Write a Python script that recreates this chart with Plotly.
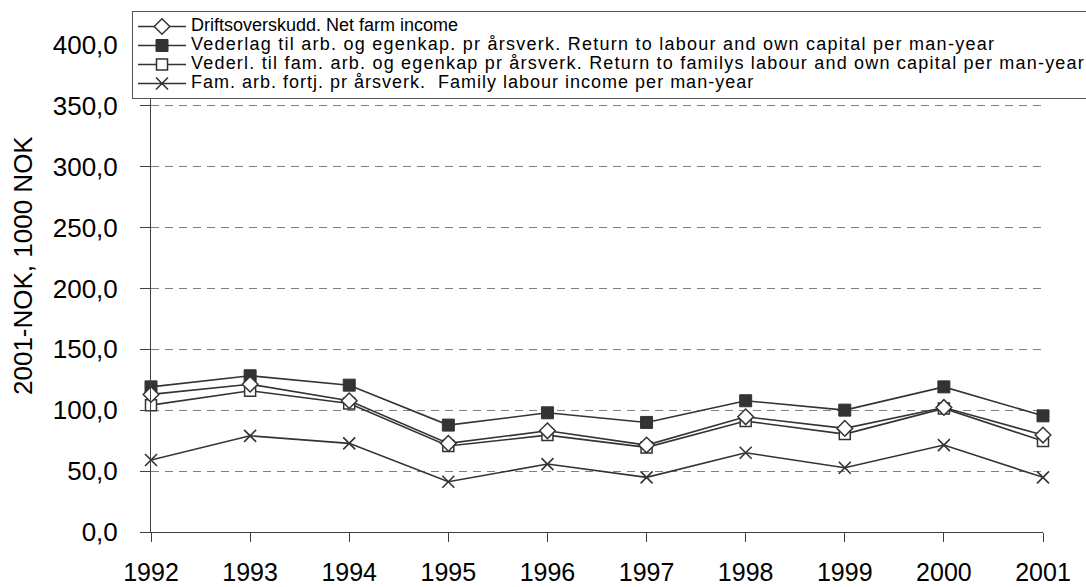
import plotly.graph_objects as go

years = [1992, 1993, 1994, 1995, 1996, 1997, 1998, 1999, 2000, 2001]
year_labels = [str(y) for y in years]

net_farm_income = [113.0, 121.4, 107.8, 72.8, 83.1, 71.4, 94.6, 85.1, 102.3, 79.6]
return_labour_capital = [119.2, 128.3, 120.6, 87.8, 97.9, 90.0, 107.8, 100.1, 119.2, 95.4]
return_family_labour_capital = [104.2, 116.0, 105.6, 70.6, 79.6, 69.5, 91.1, 80.4, 101.5, 74.7]
family_labour_income = [59.1, 79.0, 72.8, 41.3, 55.8, 44.9, 65.1, 52.8, 71.4, 44.9]

names = [
    "Driftsoverskudd. Net farm income",
    "Vederlag til arb. og egenkap. pr årsverk. Return to labour and own capital per man-year",
    "Vederl. til fam. arb. og egenkap pr årsverk. Return to familys labour and own capital per man-year",
    "Fam. arb. fortj. pr årsverk.  Family labour income per man-year",
]

y_ticks = [0, 50, 100, 150, 200, 250, 300, 350, 400]

DARK = "#333333"
FONT = "Arial, Liberation Sans, sans-serif"


def lbl(t, spacing):
    return ("<span style='font-size:18px;letter-spacing:%spx'>" % spacing) + t.replace("  ", "&nbsp; ") + "</span>"


fig = go.Figure()

series = [
    (return_labour_capital, lbl(names[1], 1.25), dict(symbol="square", size=12, color=DARK, line=dict(color=DARK, width=1)), 2),
    (return_family_labour_capital, lbl(names[2], 1.2), dict(symbol="square", size=11, color="white", line=dict(color=DARK, width=1.5)), 3),
    (net_farm_income, lbl(names[0], 0), dict(symbol="diamond", size=12, color="white", line=dict(color=DARK, width=1.5)), 1),
    (family_labour_income, lbl(names[3], 1.0), dict(symbol="x-thin", size=12, color=DARK, line=dict(color=DARK, width=1.6)), 4),
]

for vals, name, marker, rank in series:
    fig.add_trace(go.Scatter(
        x=years, y=vals, name=name, mode="lines+markers",
        line=dict(color=DARK, width=1.6),
        marker=marker, cliponaxis=False, legendrank=rank,
    ))

fig.add_annotation(
    text="2001-NOK, 1000 NOK", textangle=-90,
    xref="paper", yref="paper", x=(23 - 151) / 892, y=(532 - 266) / 487,
    xanchor="center", yanchor="middle", showarrow=False,
    font=dict(family=FONT, size=26, color="#000000"),
)

fig.update_layout(
    width=1086, height=587,
    margin=dict(l=151, r=43, t=45, b=55, autoexpand=False),
    paper_bgcolor="white", plot_bgcolor="white",
    separators=",.",
    font=dict(family=FONT, color="#000000"),
    showlegend=True,
    legend=dict(
        x=(132 - 151) / 892, y=1 + (45 - 11) / 487, xanchor="left", yanchor="top",
        bgcolor="white", bordercolor="#555555", borderwidth=1,
        font=dict(family=FONT, size=11.8, color="#000000"),
        itemwidth=48, traceorder="normal",
    ),
    xaxis=dict(
        range=[1992, 2001], tickmode="array", tickvals=years, ticktext=year_labels,
        showgrid=False, zeroline=False, showline=True, linecolor="#404040", linewidth=1,
        ticks="outside", ticklen=9, tickcolor="#404040", tickwidth=1,
        tickfont=dict(family=FONT, size=25, color="#000000"), ticklabelstandoff=9,
    ),
    yaxis=dict(
        range=[0, 400], tickmode="array", tickvals=y_ticks, tickformat=".1f",
        showgrid=True, gridcolor="#808080", gridwidth=1, griddash="8px,6px",
        zeroline=False, showline=True, linecolor="#404040", linewidth=1,
        ticks="outside", ticklen=10, tickcolor="#404040", tickwidth=1,
        tickfont=dict(family=FONT, size=26, color="#000000"), ticklabelstandoff=17,
    ),
)

fig.write_html(
    "out.html",
    config={"displayModeBar": False},
    post_script="document.body.style.margin='0';document.body.style.overflow='hidden';",
)
